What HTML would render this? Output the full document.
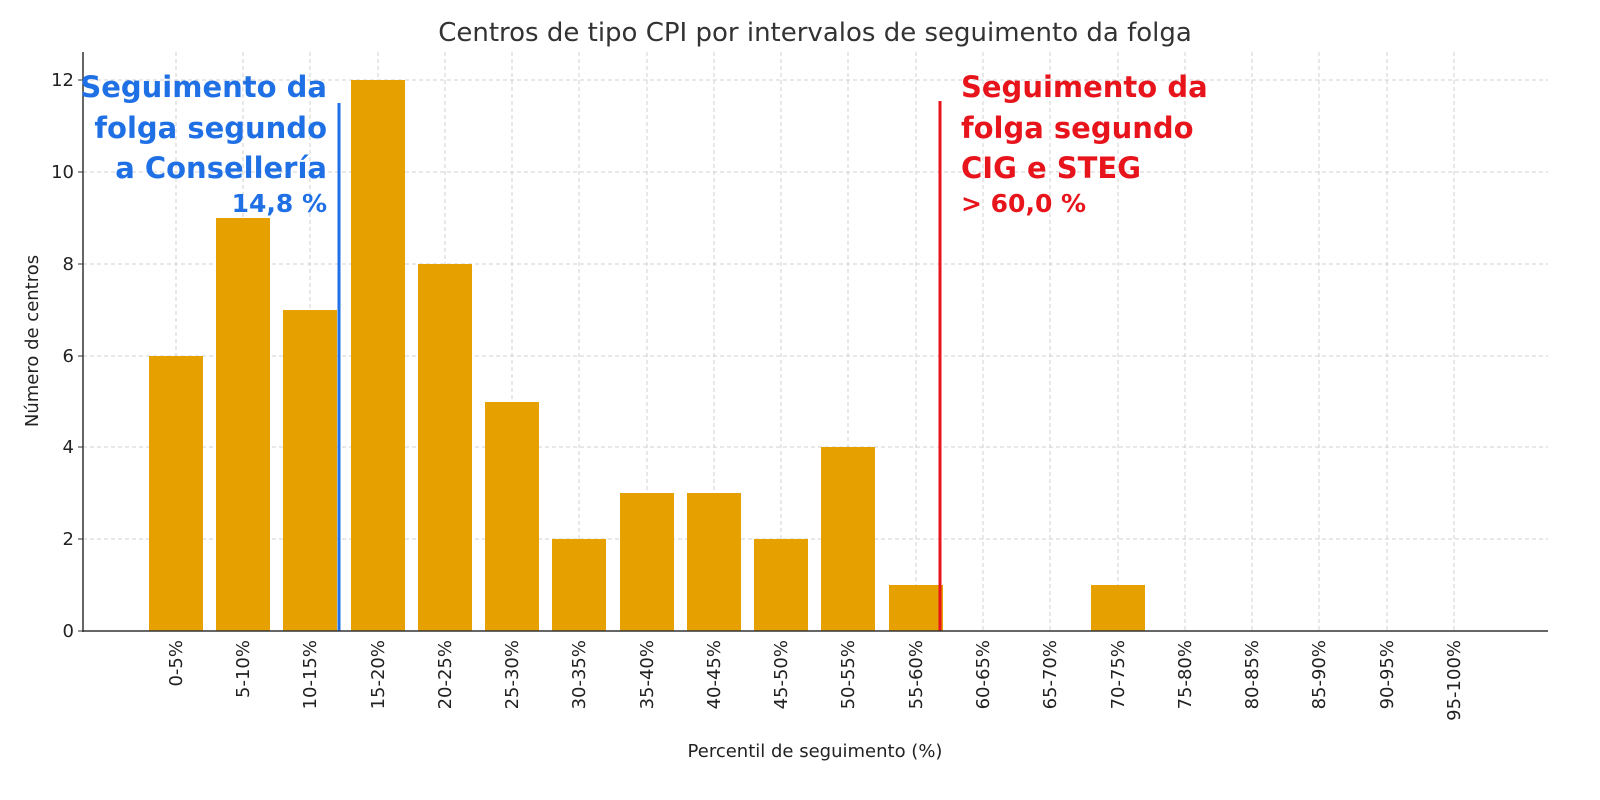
<!DOCTYPE html>
<html><head><meta charset="utf-8"><style>
body{margin:0;background:#fff;}
svg{display:block;font-family:"DejaVu Sans","Liberation Sans",sans-serif;}
</style></head><body>
<svg width="1600" height="800" xmlns="http://www.w3.org/2000/svg">
<rect width="1600" height="800" fill="#fff"/>
<text x="815" y="41" font-size="26" text-anchor="middle" fill="#333">Centros de tipo CPI por intervalos de seguimento da folga</text>
<g stroke="#d0d0d0" stroke-dasharray="4,3" stroke-width="1">
<line x1="83" x2="1548" y1="80" y2="80"/><line x1="83" x2="1548" y1="172" y2="172"/><line x1="83" x2="1548" y1="264" y2="264"/><line x1="83" x2="1548" y1="356" y2="356"/><line x1="83" x2="1548" y1="447" y2="447"/><line x1="83" x2="1548" y1="539" y2="539"/>
<line x1="176" x2="176" y1="52" y2="631"/><line x1="243" x2="243" y1="52" y2="631"/><line x1="310" x2="310" y1="52" y2="631"/><line x1="378" x2="378" y1="52" y2="631"/><line x1="445" x2="445" y1="52" y2="631"/><line x1="512" x2="512" y1="52" y2="631"/><line x1="579" x2="579" y1="52" y2="631"/><line x1="647" x2="647" y1="52" y2="631"/><line x1="714" x2="714" y1="52" y2="631"/><line x1="781" x2="781" y1="52" y2="631"/><line x1="848" x2="848" y1="52" y2="631"/><line x1="916" x2="916" y1="52" y2="631"/><line x1="983" x2="983" y1="52" y2="631"/><line x1="1050" x2="1050" y1="52" y2="631"/><line x1="1118" x2="1118" y1="52" y2="631"/><line x1="1185" x2="1185" y1="52" y2="631"/><line x1="1252" x2="1252" y1="52" y2="631"/><line x1="1319" x2="1319" y1="52" y2="631"/><line x1="1387" x2="1387" y1="52" y2="631"/><line x1="1454" x2="1454" y1="52" y2="631"/>
</g>
<g fill="#e6a000">
<rect x="149" y="356" width="54" height="275"/>
<rect x="216" y="218" width="54" height="413"/>
<rect x="283" y="310" width="54" height="321"/>
<rect x="351" y="80" width="54" height="551"/>
<rect x="418" y="264" width="54" height="367"/>
<rect x="485" y="402" width="54" height="229"/>
<rect x="552" y="539" width="54" height="92"/>
<rect x="620" y="493" width="54" height="138"/>
<rect x="687" y="493" width="54" height="138"/>
<rect x="754" y="539" width="54" height="92"/>
<rect x="821" y="447" width="54" height="184"/>
<rect x="889" y="585" width="54" height="46"/>
<rect x="1091" y="585" width="54" height="46"/>
</g>
<line x1="339" x2="339" y1="103" y2="631" stroke="#1f6fe5" stroke-width="3"/>
<line x1="940" x2="940" y1="101" y2="631" stroke="#e8141c" stroke-width="3"/>
<line x1="83" x2="83" y1="52" y2="632" stroke="#333" stroke-width="1.5"/>
<line x1="82" x2="1548" y1="631" y2="631" stroke="#333" stroke-width="1.5"/>
<g font-size="18" fill="#222" text-anchor="end">
<text x="74" y="637">0</text><text x="74" y="545">2</text><text x="74" y="453">4</text><text x="74" y="362">6</text><text x="74" y="270">8</text><text x="74" y="178">10</text><text x="74" y="86">12</text>
</g>
<g stroke="#333"><line x1="78" x2="83" y1="631" y2="631"/><line x1="78" x2="83" y1="539" y2="539"/><line x1="78" x2="83" y1="447" y2="447"/><line x1="78" x2="83" y1="356" y2="356"/><line x1="78" x2="83" y1="264" y2="264"/><line x1="78" x2="83" y1="172" y2="172"/><line x1="78" x2="83" y1="80" y2="80"/></g>
<g font-size="18" fill="#222" text-anchor="end">
<text transform="translate(182,640) rotate(-90)">0-5%</text>
<text transform="translate(249,640) rotate(-90)">5-10%</text>
<text transform="translate(316,640) rotate(-90)">10-15%</text>
<text transform="translate(384,640) rotate(-90)">15-20%</text>
<text transform="translate(451,640) rotate(-90)">20-25%</text>
<text transform="translate(518,640) rotate(-90)">25-30%</text>
<text transform="translate(585,640) rotate(-90)">30-35%</text>
<text transform="translate(653,640) rotate(-90)">35-40%</text>
<text transform="translate(720,640) rotate(-90)">40-45%</text>
<text transform="translate(787,640) rotate(-90)">45-50%</text>
<text transform="translate(854,640) rotate(-90)">50-55%</text>
<text transform="translate(922,640) rotate(-90)">55-60%</text>
<text transform="translate(989,640) rotate(-90)">60-65%</text>
<text transform="translate(1056,640) rotate(-90)">65-70%</text>
<text transform="translate(1124,640) rotate(-90)">70-75%</text>
<text transform="translate(1191,640) rotate(-90)">75-80%</text>
<text transform="translate(1258,640) rotate(-90)">80-85%</text>
<text transform="translate(1325,640) rotate(-90)">85-90%</text>
<text transform="translate(1393,640) rotate(-90)">90-95%</text>
<text transform="translate(1460,640) rotate(-90)">95-100%</text>
</g>
<text x="815" y="757" font-size="18" text-anchor="middle" fill="#222">Percentil de seguimento (%)</text>
<text transform="translate(38,341) rotate(-90)" font-size="18" text-anchor="middle" fill="#222">Número de centros</text>
<g font-size="29" font-weight="bold" fill="#1f6fe5" text-anchor="end">
<text x="327" y="97">Seguimento da</text><text x="327" y="138">folga segundo</text><text x="327" y="178">a Consellería</text><text x="327" y="212" font-size="25">14,8 %</text>
</g>
<g font-size="29" font-weight="bold" fill="#e8141c">
<text x="961" y="97">Seguimento da</text><text x="961" y="138">folga segundo</text><text x="961" y="178">CIG e STEG</text><text x="961" y="212" font-size="25">&gt; 60,0 %</text>
</g>
</svg>
</body></html>
